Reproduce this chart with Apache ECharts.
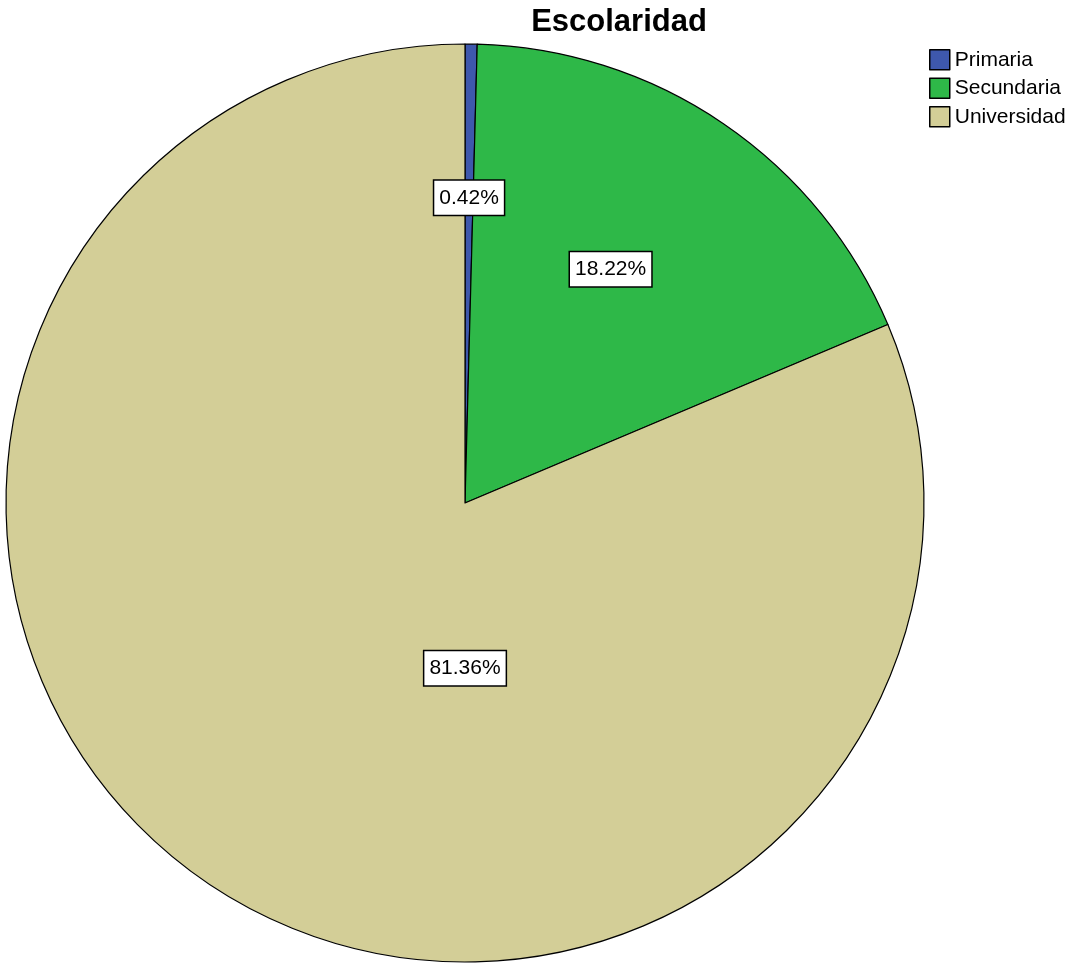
<!DOCTYPE html>
<html>
<head>
<meta charset="utf-8">
<script src="https://cdn.jsdelivr.net/npm/echarts@6/dist/echarts.min.js"></script>
<style>
    html, body {margin: 0; padding: 0; background: #ffffff;}
    #main {width: 1069px; height: 965px;}
</style>
</head>
<body>
<div id="main"></div>
<script>
// 分类和人数 (236 人)
var Categories = ['Primaria', 'Secundaria', 'Universidad']
var Counts = [1, 43, 192]
var Colors = ['#3E58AC', '#2EB848', '#D3CE97']

var CX = 465, CY = 503, R = 459

// 标签放置: 半径比例, 大扇区放在圆心正下方
function labelSpot(idx) {
    let total = Counts.reduce((a, b) => a + b, 0)
    let before = 0
    for (let i = 0; i < idx; i++) before += Counts[i]
    let share = Counts[idx] / total
    let mid = (before + Counts[idx] / 2) / total * 2 * Math.PI
    let frac = share < 0.05 ? 0.665 : 0.6
    if (share > 0.5) {
        mid = Math.PI
        frac = 0.36
    } else if (share >= 0.05) {
        mid = mid * 0.93
    }
    return {x: CX + Math.sin(mid) * R * frac, y: CY - Math.cos(mid) * R * frac}
}

var chartDom = document.getElementById('main');
var myChart = echarts.init(chartDom);
var option;

option = {
    backgroundColor: '#ffffff',
    animation: false,
    title: {
        text: 'Escolaridad',
        left: 614,
        textAlign: 'center',
        top: 2,
        textStyle: {
            color: '#000000',
            fontWeight: 'bold',
            fontFamily: 'Liberation Sans, Arial, sans-serif',
            fontSize: 31
        }
    },
    legend: {
        orient: 'vertical',
        left: 929,
        top: 49,
        padding: 0,
        icon: 'rect',
        itemWidth: 20,
        itemHeight: 20,
        itemGap: 7,
        data: Categories,
        itemStyle: {borderColor: '#000000', borderWidth: 1.5},
        textStyle: {
            color: '#000000',
            fontFamily: 'Liberation Sans, Arial, sans-serif',
            fontSize: 21,
            lineHeight: 20
        }
    },
    series: [
        {
            type: 'pie',
            center: [CX, CY],
            radius: R,
            startAngle: 90,
            clockwise: true,
            label: {
                show: true,
                position: 'inside',
                formatter: '{d}%',
                color: '#000000',
                fontFamily: 'Liberation Sans, Arial, sans-serif',
                fontSize: 21,
                backgroundColor: '#ffffff',
                borderColor: '#000000',
                borderWidth: 1.5,
                padding: [7, 5, 6, 5]
            },
            labelLayout: function (p) {
                return labelSpot(p.dataIndex)
            },
            itemStyle: {borderColor: '#000000', borderWidth: 1.2},
            emphasis: {disabled: true},
            data: Categories.map((c, i) => ({
                name: c,
                value: Counts[i],
                itemStyle: {color: Colors[i]}
            }))
        }
    ]
};
option && myChart.setOption(option);
</script>
</body>
</html>
